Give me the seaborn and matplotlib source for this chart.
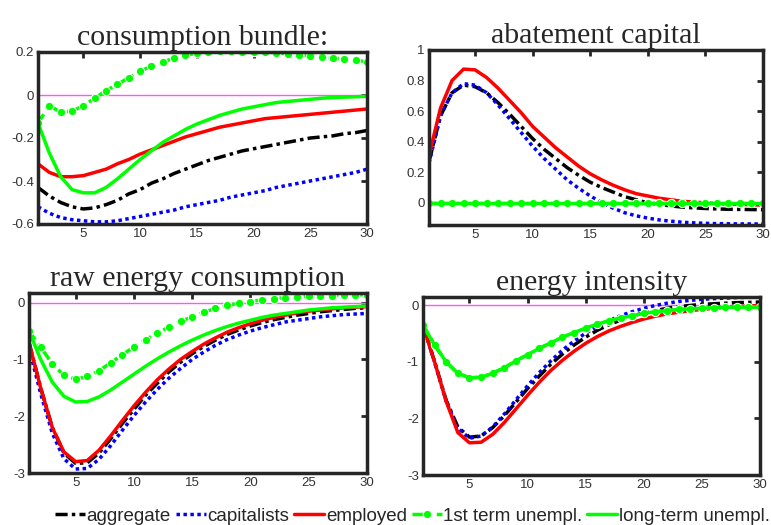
import numpy as np
import pandas as pd
import seaborn as sns
import matplotlib
matplotlib.use('Agg')
import matplotlib.pyplot as plt

periods = list(range(1, 31))
groups = ['aggregate', 'capitalists', 'employed', '1st term unempl.', 'long-term unempl.']
titles = ['consumption bundle:', 'abatement capital', 'raw energy consumption', 'energy intensity']

# consumption bundle
cons_aggregate = [-0.43, -0.47, -0.50, -0.52, -0.53, -0.525, -0.51, -0.49, -0.46, -0.44, -0.41, -0.39, -0.365, -0.345, -0.325,
                  -0.305, -0.29, -0.275, -0.26, -0.25, -0.24, -0.23, -0.22, -0.21, -0.20, -0.195, -0.19, -0.18, -0.175, -0.165]
cons_capitalists = [-0.52, -0.55, -0.57, -0.58, -0.585, -0.59, -0.59, -0.585, -0.575, -0.565, -0.555, -0.545, -0.535, -0.52, -0.51,
                    -0.50, -0.49, -0.475, -0.465, -0.455, -0.445, -0.43, -0.42, -0.41, -0.40, -0.39, -0.38, -0.37, -0.36, -0.345]
cons_employed = [-0.32, -0.36, -0.38, -0.38, -0.375, -0.36, -0.345, -0.32, -0.30, -0.275, -0.255, -0.235, -0.215, -0.195, -0.18,
                 -0.165, -0.15, -0.14, -0.13, -0.12, -0.11, -0.105, -0.10, -0.095, -0.09, -0.085, -0.08, -0.075, -0.07, -0.065]
cons_first = [-0.13, -0.05, -0.08, -0.075, -0.05, -0.015, 0.02, 0.05, 0.08, 0.11, 0.135, 0.155, 0.17, 0.185, 0.195,
              0.20, 0.203, 0.203, 0.202, 0.20, 0.198, 0.195, 0.192, 0.188, 0.183, 0.178, 0.172, 0.167, 0.162, 0.155]
cons_longterm = [-0.13, -0.27, -0.38, -0.44, -0.455, -0.455, -0.43, -0.39, -0.345, -0.30, -0.26, -0.22, -0.19, -0.16, -0.135,
                 -0.115, -0.095, -0.08, -0.065, -0.055, -0.045, -0.035, -0.03, -0.025, -0.02, -0.015, -0.012, -0.01, -0.008, -0.006]

# abatement capital
abat_aggregate = [0.27, 0.57, 0.72, 0.77, 0.76, 0.72, 0.655, 0.58, 0.50, 0.42, 0.35, 0.29, 0.23, 0.18, 0.135,
                  0.10, 0.07, 0.04, 0.02, 0.0, -0.01, -0.02, -0.028, -0.033, -0.037, -0.04, -0.042, -0.043, -0.044, -0.045]
abat_capitalists = [0.26, 0.57, 0.72, 0.78, 0.77, 0.72, 0.64, 0.55, 0.46, 0.37, 0.29, 0.22, 0.15, 0.095, 0.045,
                    0.0, -0.035, -0.065, -0.085, -0.10, -0.112, -0.12, -0.127, -0.131, -0.134, -0.136, -0.137, -0.138, -0.138, -0.138]
abat_employed = [0.31, 0.62, 0.80, 0.875, 0.87, 0.82, 0.75, 0.67, 0.59, 0.50, 0.43, 0.36, 0.30, 0.24, 0.19,
                 0.15, 0.115, 0.085, 0.06, 0.045, 0.03, 0.02, 0.01, 0.005, 0.0, -0.005, -0.008, -0.01, -0.012, -0.015]
abat_first = [0.0] * 30
abat_longterm = [0.0] * 30

# raw energy consumption
raw_aggregate = [-0.70, -1.50, -2.20, -2.65, -2.83, -2.82, -2.65, -2.40, -2.13, -1.88, -1.63, -1.42, -1.22, -1.05, -0.90,
                 -0.77, -0.66, -0.56, -0.48, -0.41, -0.35, -0.30, -0.26, -0.22, -0.19, -0.16, -0.14, -0.12, -0.10, -0.09]
raw_capitalists = [-0.80, -1.60, -2.30, -2.75, -2.93, -2.92, -2.76, -2.52, -2.25, -1.99, -1.75, -1.53, -1.33, -1.16, -1.00,
                   -0.87, -0.75, -0.65, -0.57, -0.50, -0.44, -0.39, -0.34, -0.31, -0.28, -0.25, -0.23, -0.21, -0.20, -0.19]
raw_employed = [-0.70, -1.50, -2.20, -2.63, -2.80, -2.78, -2.60, -2.35, -2.08, -1.82, -1.58, -1.36, -1.17, -1.00, -0.86,
                -0.73, -0.62, -0.52, -0.44, -0.37, -0.31, -0.26, -0.22, -0.18, -0.15, -0.13, -0.11, -0.09, -0.08, -0.07]
raw_first = [-0.50, -0.78, -1.08, -1.28, -1.35, -1.30, -1.20, -1.06, -0.92, -0.78, -0.65, -0.54, -0.43, -0.33, -0.25,
             -0.17, -0.10, -0.05, -0.01, 0.02, 0.05, 0.07, 0.09, 0.10, 0.11, 0.12, 0.125, 0.13, 0.135, 0.14]
raw_longterm = [-0.50, -1.00, -1.40, -1.65, -1.75, -1.74, -1.66, -1.54, -1.40, -1.26, -1.12, -0.99, -0.87, -0.76, -0.66,
                -0.57, -0.49, -0.42, -0.36, -0.31, -0.26, -0.22, -0.19, -0.16, -0.13, -0.11, -0.09, -0.08, -0.07, -0.06]

# energy intensity
int_aggregate = [-0.35, -1.00, -1.68, -2.15, -2.33, -2.31, -2.16, -1.95, -1.71, -1.47, -1.25, -1.04, -0.86, -0.70, -0.56,
                 -0.44, -0.34, -0.26, -0.19, -0.13, -0.09, -0.05, -0.02, 0.0, 0.02, 0.03, 0.04, 0.05, 0.055, 0.06]
int_capitalists = [-0.35, -1.00, -1.70, -2.17, -2.35, -2.31, -2.15, -1.92, -1.67, -1.42, -1.19, -0.98, -0.79, -0.63, -0.49,
                   -0.37, -0.27, -0.18, -0.11, -0.05, 0.0, 0.04, 0.07, 0.09, 0.11, 0.12, 0.13, 0.14, 0.145, 0.15]
int_employed = [-0.35, -1.00, -1.70, -2.25, -2.43, -2.42, -2.28, -2.07, -1.83, -1.59, -1.36, -1.15, -0.97, -0.81, -0.67,
                -0.55, -0.45, -0.37, -0.30, -0.24, -0.19, -0.15, -0.12, -0.09, -0.07, -0.05, -0.03, -0.02, -0.01, 0.0]
int_first = [-0.35, -0.70, -1.00, -1.20, -1.28, -1.27, -1.20, -1.10, -0.98, -0.87, -0.76, -0.66, -0.56, -0.48, -0.40,
             -0.33, -0.27, -0.22, -0.18, -0.14, -0.11, -0.09, -0.07, -0.06, -0.05, -0.04, -0.035, -0.03, -0.03, -0.03]
int_longterm = [-0.35, -0.70, -1.00, -1.20, -1.28, -1.27, -1.20, -1.10, -0.98, -0.87, -0.76, -0.66, -0.56, -0.48, -0.40,
                -0.33, -0.27, -0.22, -0.18, -0.14, -0.11, -0.09, -0.07, -0.06, -0.05, -0.04, -0.035, -0.03, -0.03, -0.03]

panels = [
    [cons_aggregate, cons_capitalists, cons_employed, cons_first, cons_longterm],
    [abat_aggregate, abat_capitalists, abat_employed, abat_first, abat_longterm],
    [raw_aggregate, raw_capitalists, raw_employed, raw_first, raw_longterm],
    [int_aggregate, int_capitalists, int_employed, int_first, int_longterm],
]
ylims = [(-0.6, 0.2), (-0.145, 1.0), (-3.0, 0.17), (-3.0, 0.15)]
yticks = [[-0.6, -0.4, -0.2, 0, 0.2], [0, 0.2, 0.4, 0.6, 0.8, 1], [-3, -2, -1, 0], [-3, -2, -1, 0]]
ytick_labels = [['-0.6', '-0.4', '-0.2', '0', '0.2'], ['0', '0.2', '0.4', '0.6', '0.8', '1'],
                ['-3', '-2', '-1', '0'], ['-3', '-2', '-1', '0']]

# axes boxes in figure fractions (771 x 525 px)
boxes = [
    [38 / 771, 1 - 224 / 525, 329 / 771, 172 / 525],
    [429 / 771, 1 - 225 / 525, 334 / 771, 175 / 525],
    [29 / 771, 1 - 473 / 525, 338 / 771, 180 / 525],
    [423 / 771, 1 - 475 / 525, 337 / 771, 178 / 525],
]

styles = {
    'aggregate': dict(color='black', linestyle=(0, (3.5, 1.2, 1, 1.2)), lw=2.5),
    'capitalists': dict(color='#0000ff', linestyle=(0, (1, 1)), lw=2.5),
    'employed': dict(color='#ff0000', linestyle='-', lw=2.5),
    '1st term unempl.': dict(color='#00ff00', linestyle=(0, (3, 1.5, 1, 1.5)), lw=2.5, marker='o', markersize=6),
    'long-term unempl.': dict(color='#00ff00', linestyle='-', lw=2.5),
}

sns.set_style('white')
plt.rcParams['font.family'] = ['Liberation Sans', 'DejaVu Sans']

fig = plt.figure(figsize=(7.71, 5.25), dpi=100)

for i, series in enumerate(panels):
    ax = fig.add_axes(boxes[i])
    df = pd.DataFrame({'t': periods * 5,
                       'value': sum(series, []),
                       'group': np.repeat(groups, 30)})
    ax.axhline(0, color='#ff55ff', lw=1, zorder=1)
    for g in groups:
        st = styles[g]
        sns.lineplot(data=df[df['group'] == g], x='t', y='value', ax=ax, label=g, **st)
    ax.set_xlim(1, 30)
    ax.set_ylim(*ylims[i])
    ax.set_xticks([5, 10, 15, 20, 25, 30])
    ax.set_yticks(yticks[i])
    ax.set_yticklabels(ytick_labels[i])
    ax.set_xlabel('')
    ax.set_ylabel('')
    ax.legend_.remove()
    ax.tick_params(direction='in', length=4, width=2, colors='#262626', labelsize=9.5,
                   top=True, right=True, pad=3, labelcolor='#333333')
    for s in ax.spines.values():
        s.set_linewidth(2.5)
        s.set_color('#262626')
    ax.set_title(titles[i], fontfamily='Liberation Serif', fontsize=21.5, pad=5)

handles, labels = fig.axes[0].get_legend_handles_labels()
handles = handles[-5:]
labels = labels[-5:]
fig.legend(handles, labels, loc='center', bbox_to_anchor=(0.535, 0.017), ncol=5, frameon=False,
           fontsize=13.5, handlelength=1.6, handletextpad=0.1, columnspacing=0.25, borderaxespad=0)

fig.savefig('out.png', dpi=100)
